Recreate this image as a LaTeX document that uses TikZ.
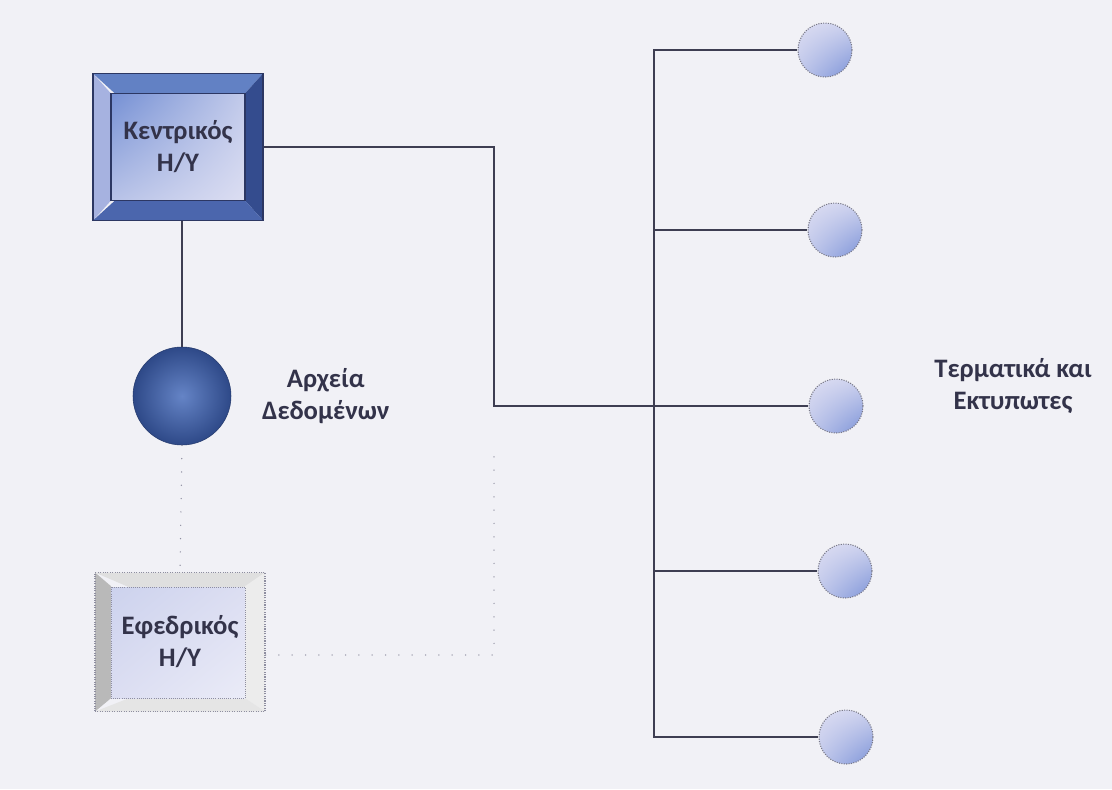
\documentclass[tikz,border=0pt]{standalone}
\usepackage{fontspec}
\setmainfont{Carlito}
\usetikzlibrary{positioning,shadings}

\definecolor{paper}{HTML}{F1F1F6}
\definecolor{wirec}{HTML}{3E3E52}
\definecolor{inkc}{HTML}{33334A}
\definecolor{pcedge}{HTML}{2C3763}
\definecolor{bevtop}{HTML}{6281C4}
\definecolor{bevleft}{HTML}{A6B2E0}
\definecolor{bevright}{HTML}{344C8E}
\definecolor{bevbot}{HTML}{4B66AD}
\definecolor{facedark}{HTML}{7590D4}
\definecolor{facelight}{HTML}{DCDEF2}
\definecolor{diskin}{HTML}{6584C6}
\definecolor{diskout}{HTML}{2E4988}
\definecolor{termlight}{HTML}{DCDDF2}
\definecolor{termdark}{HTML}{7C93D8}
\definecolor{dotc}{HTML}{8E8EA0}

\begin{document}
\begin{tikzpicture}[
    x=0.75pt, y=-0.75pt,
    font=\fontsize{20}{24}\selectfont\bfseries,
    txt/.style      = {text=inkc, align=center, inner sep=1pt},
    wire/.style     = {draw=wirec, line width=1.5pt},
    faint/.style    = {draw=dotc, line width=1.1pt, line cap=round,
                       dash pattern=on 0pt off 10pt},
    mainpc/.style   = {rectangle, draw=pcedge, line width=1.2pt,
                       minimum width=170*0.75pt, minimum height=147*0.75pt,
                       txt, inner sep=0pt,
                       path picture={
                         \fill[bevtop]   (path picture bounding box.north west) -- (path picture bounding box.north east)
                              -- ++(-13.5pt,-15pt) -- ++(-97.5pt,0pt) -- cycle;
                         \fill[bevleft]  (path picture bounding box.north west) -- (path picture bounding box.south west)
                              -- ++(13.5pt,15pt) -- ++(0pt,80.25pt) -- cycle;
                         \fill[bevright] (path picture bounding box.north east) -- (path picture bounding box.south east)
                              -- ++(-13.5pt,15pt) -- ++(0pt,80.25pt) -- cycle;
                         \fill[bevbot]   (path picture bounding box.south west) -- (path picture bounding box.south east)
                              -- ++(-13.5pt,15pt) -- ++(-97.5pt,0pt) -- cycle;
                         \shade[upper left=facedark, upper right=facelight!75!facedark,
                                lower left=facelight!65!facedark, lower right=facelight,
                                draw=pcedge, line width=0.8pt]
                              ([shift={(13.5pt,-15pt)}]path picture bounding box.north west)
                              rectangle ([shift={(-13.5pt,15pt)}]path picture bounding box.south east);
                       }},
    sparepc/.style  = {rectangle, draw=dotc, densely dotted, line width=0.8pt,
                       minimum width=170*0.75pt, minimum height=139*0.75pt,
                       txt, inner sep=0pt,
                       path picture={
                         \fill[gray!55] (path picture bounding box.north west) -- (path picture bounding box.south west)
                              -- ++(12pt,10pt) -- ++(0pt,84pt) -- cycle;
                         \fill[gray!25] (path picture bounding box.north west) -- (path picture bounding box.north east)
                              -- ++(-15pt,-11pt) -- ++(-87pt,0pt) -- cycle;
                         \fill[white!85!gray] (path picture bounding box.north east) -- (path picture bounding box.south east)
                              -- ++(-15pt,10pt) -- ++(0pt,84pt) -- cycle;
                         \fill[white!80!gray] (path picture bounding box.south west) -- (path picture bounding box.south east)
                              -- ++(-15pt,10pt) -- ++(-87pt,0pt) -- cycle;
                         \shade[upper left=facelight!85!facedark, lower right=facelight!60!white,
                                upper right=facelight, lower left=facelight,
                                draw=dotc, densely dotted, line width=0.6pt]
                              ([shift={(12pt,-11pt)}]path picture bounding box.north west)
                              rectangle ([shift={(-15pt,10pt)}]path picture bounding box.south east);
                       }},
    disk/.style     = {circle, minimum size=98*0.75pt, inner sep=0pt,
                       inner color=diskin, outer color=diskout, draw=diskout!80!black},
    terminal/.style = {circle, minimum size=54*0.75pt, inner sep=0pt,
                       upper left=termlight, upper right=termlight!85!termdark,
                       lower left=termlight!70!termdark, lower right=termdark,
                       draw=wirec!70, densely dotted, line width=0.8pt}
]

% page
\fill[paper] (0,0) rectangle (1112,789);
\useasboundingbox (0,0) rectangle (1112,789);

% --- Left side: computers and data files ------------------------------------
\node[mainpc]  (central) at (178,147) {Κεντρικός\\H/Y};
\node[disk]    (data)    at (182,396) {};
\node[txt, right=22pt of data] (datalbl) {Αρχεία\\Δεδομένων};
\node[sparepc] (spare)   at (180,642) {Εφεδρικός\\H/Y};

% --- Right side: terminals ---------------------------------------------------
\node[terminal] (t1) at (825,50)  {};
\node[terminal] (t2) at (835,230) {};
\node[terminal] (t3) at (836,406) {};
\node[terminal] (t4) at (845,571) {};
\node[terminal] (t5) at (846,737) {};
\node[txt] (termlbl) at (1013,386) {Τερματικά και\\Εκτυπωτες};

\coordinate (busx)  at (654,0);
\coordinate (knee)  at (494,147);
\coordinate (dknee) at (494,655);

% --- Links -------------------------------------------------------------------
\draw[wire] (central.south -| data) -- (data.north);
\draw[wire] (central.east) -- (knee) |- (t3.west);

% bus with its branches
\draw[wire] (t1.west) -- (t1.west -| busx) -- (t5.west -| busx) -- (t5.west);
\foreach \t in {t2,t3,t4}
  \draw[wire] (\t.west -| busx) -- (\t.west);

% backup links (dotted)
\draw[faint] (data.south) -- (spare.north);
\draw[faint] (spare.east |- dknee) -- (dknee) -- ([yshift=-30pt]knee |- t3.west);

\end{tikzpicture}
\end{document}
